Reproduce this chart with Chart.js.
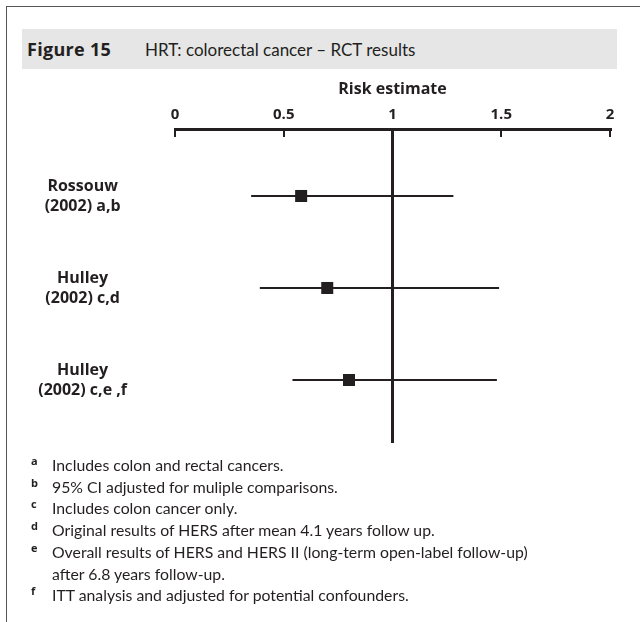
<!DOCTYPE html>
<html>
<head>
<meta charset="utf-8">
<script src="https://cdn.jsdelivr.net/npm/chart.js@4.4.1/dist/chart.umd.min.js"></script>
<style>
  body { margin: 0; background: #fff; font-family: Lato, "Open Sans", sans-serif; color: #231f20; }
  #page { position: relative; width: 640px; height: 622px; overflow: hidden; }
  #frame { position: absolute; left: 6px; top: 6px; width: 640px; height: 622px;
           border-left: 1px solid #555; border-top: 1px solid #555; }
  #titlebar { position: absolute; left: 22px; top: 29px; width: 595px; height: 40px;
              background: #e6e6e6; font-size: 17px; line-height: 40px; }
  #titlebar b { display: inline-block; width: 123px; padding-left: 5px; box-sizing: border-box;
                font-family: "Open Sans", sans-serif; font-size: 18px; letter-spacing: 0.3px; }
  #chartBox { position: absolute; left: 0; top: 75px; width: 640px; height: 380px; }
  #notes { position: absolute; left: 30px; top: 454px; font-size: 15.8px; line-height: 21.7px; }
  #notes div { position: relative; padding-left: 22px; }
  #notes sup { position: absolute; left: 1px; top: -4px; font-size: 11px; font-weight: bold;
               font-family: "Open Sans", sans-serif; }
</style>
</head>
<body>
<div id="page">
  <div id="frame"></div>
  <div id="titlebar"><b>Figure 15</b>HRT: colorectal cancer – RCT results</div>
  <div id="chartBox"><canvas id="forest" width="640" height="380"></canvas></div>
  <div id="notes">
    <div><sup>a</sup>Includes colon and rectal cancers.</div>
    <div><sup>b</sup>95% CI adjusted for muliple comparisons.</div>
    <div><sup>c</sup>Includes colon cancer only.</div>
    <div><sup>d</sup>Original results of HERS after mean 4.1 years follow up.</div>
    <div><sup>e</sup>Overall results of HERS and HERS II (long-term open-label follow-up)<br>after 6.8 years follow-up.</div>
    <div><sup>f</sup>ITT analysis and adjusted for potential confounders.</div>
  </div>
</div>
<script>
const studies = [['Rossouw', '(2002) a,b'], ['Hulley', '(2002) c,d'], ['Hulley', '(2002) c,e ,f']];
const estimates = [0.58, 0.70, 0.80];
const lower = [0.35, 0.39, 0.54];
const upper = [1.28, 1.49, 1.48];
const xTicks = [0, 0.5, 1, 1.5, 2];

const ink = '#231f20';
const boldFont = 'Open Sans';

// one line dataset per confidence interval, plus one set of squares
const datasets = studies.map((s, i) => ({
    type: 'line',
    data: [{ x: lower[i], y: i + 1 }, { x: upper[i], y: i + 1 }],
    borderColor: ink,
    borderWidth: 2,
    pointRadius: 0,
    fill: false
}));
datasets.push({
    type: 'scatter',
    data: estimates.map((v, i) => ({ x: v, y: i + 1 })),
    pointStyle: 'rect',
    pointRadius: 8.5,
    backgroundColor: ink,
    borderWidth: 0
});

// short tick marks hanging below the top axis
const tickMarks = {
    id: 'tickMarks',
    afterDraw(chart) {
        const ctx = chart.ctx;
        const xs = chart.scales.x;
        const top = chart.chartArea.top;
        ctx.save();
        ctx.strokeStyle = ink;
        ctx.lineWidth = 2;
        xTicks.forEach(v => {
            const px = Math.round(xs.getPixelForValue(v));
            ctx.beginPath();
            ctx.moveTo(px, top);
            ctx.lineTo(px, top + 8);
            ctx.stroke();
        });
        ctx.restore();
    }
};

new Chart(document.getElementById('forest'), {
    data: { datasets: datasets },
    plugins: [tickMarks],
    options: {
        responsive: false,
        animation: false,
        layout: { padding: { right: 30, bottom: 12, top: 0, left: 0 } },
        plugins: { legend: { display: false }, tooltip: { enabled: false } },
        scales: {
            x: {
                type: 'linear',
                position: 'top',
                min: 0,
                max: 2,
                afterBuildTicks: scale => { scale.ticks = xTicks.map(v => ({ value: v })); },
                afterFit: scale => { scale.height = 54; },
                title: { display: true, text: 'Risk estimate', color: ink,
                         font: { family: boldFont, size: 16, weight: 'bold' }, padding: { top: 5, bottom: 4 } },
                ticks: { color: ink, font: { family: boldFont, size: 15, weight: 'bold' }, padding: 5,
                         maxRotation: 0, callback: v => String(v) },
                border: { display: true, color: ink, width: 3 },
                grid: {
                    drawTicks: false,
                    color: ctx => (ctx.tick && ctx.tick.value === 1 ? ink : 'rgba(0,0,0,0)'),
                    lineWidth: 3
                }
            },
            y: {
                type: 'linear',
                reverse: true,
                min: 0.272,
                max: 3.685,
                afterBuildTicks: scale => { scale.ticks = [1, 2, 3].map(v => ({ value: v })); },
                afterFit: scale => {
                    scale.width = 175;
                    scale.paddingTop = 0;
                    scale.paddingBottom = 0;
                },
                ticks: {
                    color: ink,
                    font: { family: boldFont, size: 16, weight: 'bold', lineHeight: 1.25 },
                    crossAlign: 'center',
                    padding: 40,
                    callback: v => studies[v - 1] || ''
                },
                border: { display: false },
                grid: { display: false }
            }
        }
    }
});
</script>
</body>
</html>
